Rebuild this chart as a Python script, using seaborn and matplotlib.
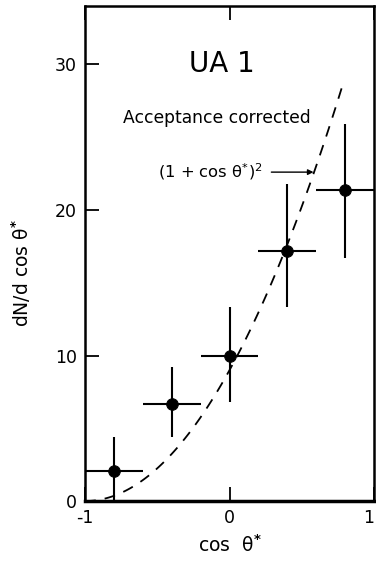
import numpy as np
import pandas as pd
import matplotlib
matplotlib.use("Agg")
import matplotlib.pyplot as plt
import seaborn as sns

# Data
cos_centers = [-0.8, -0.4, 0.0, 0.4, 0.8]
bin_halfwidth = [0.2, 0.2, 0.2, 0.2, 0.2]
dN_values = [2.1, 6.7, 10.0, 17.2, 21.4]
err_low = [2.1, 2.3, 3.2, 3.9, 4.7]
err_high = [2.3, 2.5, 3.3, 4.6, 4.5]
x_ticks = [-1, 0, 1]
x_tick_labels = ["-1", "0", "1"]
y_ticks = [0, 10, 20, 30]

# Model curve (1 + cos theta*)^2 with normalisation
norm = 9.0
curve_x = np.linspace(-1.0, 0.79, 120)
curve_y = norm * (1 + curve_x) ** 2

sns.set_theme(style="ticks")
plt.rcParams['font.family'] = ['DejaVu Sans']
plt.rcParams['text.color'] = 'black'
plt.rcParams['axes.labelcolor'] = 'black'
plt.rcParams['xtick.color'] = 'black'
plt.rcParams['ytick.color'] = 'black'

fig = plt.figure(figsize=(3.76, 5.63), dpi=100)
ax = fig.add_axes([0.226, 0.110, 0.769, 0.879])

df = pd.DataFrame({"x": cos_centers, "y": dN_values})
curve = pd.DataFrame({"x": curve_x, "y": curve_y})

sns.lineplot(data=curve, x="x", y="y", ax=ax, color="black", lw=1.3,
             dashes=False, linestyle=(0, (6, 5)))
ax.errorbar(cos_centers, dN_values, xerr=bin_halfwidth,
            yerr=[err_low, err_high], fmt="none", ecolor="black",
            elinewidth=1.5, capsize=0)
sns.scatterplot(data=df, x="x", y="y", ax=ax, color="black", s=70,
                edgecolor="black", zorder=5)

ax.set_xlim(-1, 1)
ax.set_ylim(0, 34)
ax.set_xticks(x_ticks)
ax.set_xticklabels(x_tick_labels)
ax.set_yticks(y_ticks)
ax.tick_params(direction="in", length=10, width=1.3, labelsize=12.5,
               top=True, right=False, pad=6, colors="black")
ax.get_xticklabels()[-1].set_horizontalalignment("right")
for s in ax.spines.values():
    s.set_linewidth(1.8)
    s.set_color("black")
ax.spines["bottom"].set_linewidth(2.5)

ax.set_xlabel(r"cos  θ$^{\mathbf{*}}$", fontsize=13.5)
ax.xaxis.set_label_coords(0.5, -0.068)
ax.set_ylabel(r"dN/d cos θ$^{\mathbf{*}}$", fontsize=13.5)
ax.yaxis.set_label_coords(-0.18, 0.46)

ax.text(-0.05, 30.0, "UA 1", fontsize=20, ha="center", va="center")
ax.text(-0.09, 26.3, "Acceptance corrected", fontsize=12.3, ha="center",
        va="center")
ax.annotate("", xy=(0.6, 22.6), xytext=(0.27, 22.6),
            arrowprops=dict(arrowstyle="-|>", color="black", lw=1.0,
                            mutation_scale=8))
ax.text(-0.13, 22.6, r"(1 + cos θ$^{*}$)$^{2}$", fontsize=11.8,
        ha="center", va="center")

fig.savefig("out.png", dpi=100)
